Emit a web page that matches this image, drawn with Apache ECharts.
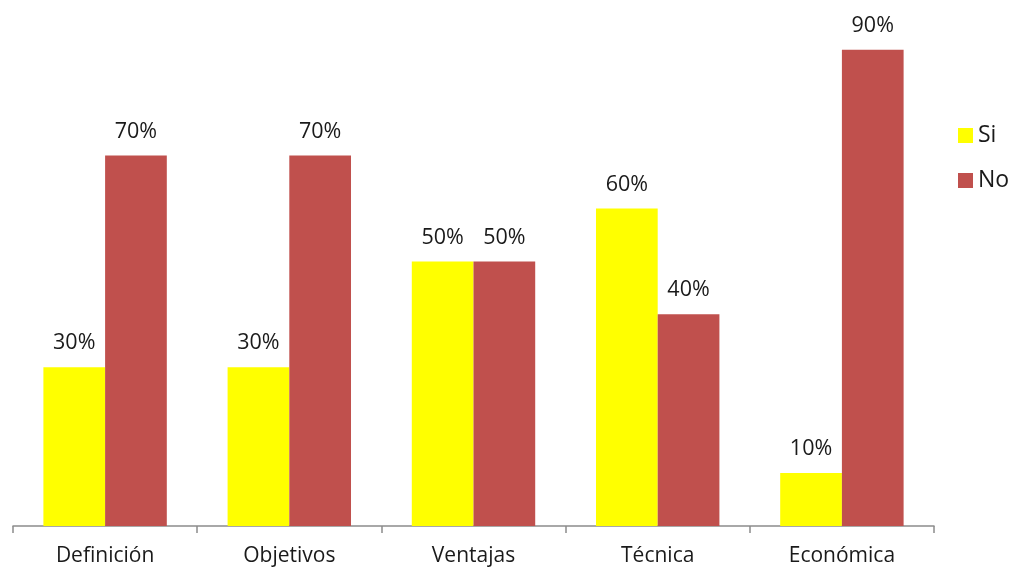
<!DOCTYPE html>
<html><head><meta charset="utf-8">
<script src="https://cdn.jsdelivr.net/npm/echarts@6/dist/echarts.min.js"></script>
<style>html,body{margin:0;padding:0;background:#fff}#c{width:1012px;height:571px}</style>
</head><body><div id="c"></div>
<script>
var categories = ['Definición', 'Objetivos', 'Ventajas', 'Técnica', 'Económica'];
var siValues = [30, 30, 50, 60, 10];
var noValues = [70, 70, 50, 40, 90];
var seriesNames = ['Si', 'No'];

var FONT = 'Open Sans';
var chart = echarts.init(document.getElementById('c'));
var labelStyle = {show: true, position: 'top', formatter: '{c}%', color: '#1a1a1a', fontSize: 21.5, fontFamily: FONT, distance: 13};
chart.setOption({
  animation: false,
  textStyle: {fontFamily: FONT},
  grid: {left: 13, right: 78, top: 0, bottom: 45},
  legend: {
    orient: 'vertical', left: 958, top: 124, padding: 0, itemWidth: 15, itemHeight: 15, itemGap: 22,
    icon: 'rect', textStyle: {fontSize: 23, color: '#1a1a1a', fontFamily: FONT},
    data: seriesNames
  },
  xAxis: {
    type: 'category', data: categories,
    axisLine: {lineStyle: {color: '#8c8c8c', width: 1.5}},
    axisTick: {show: true, length: 7, lineStyle: {color: '#8c8c8c', width: 1.5}},
    axisLabel: {fontSize: 21, color: '#1a1a1a', margin: 20}
  },
  yAxis: {type: 'value', min: 0, max: 99.4, show: false, splitLine: {show: false}},
  series: [
    {name: seriesNames[0], type: 'bar', data: siValues, itemStyle: {color: '#ffff00'}, barGap: '0%', barCategoryGap: '33%', label: labelStyle},
    {name: seriesNames[1], type: 'bar', data: noValues, itemStyle: {color: '#c0504d'}, barGap: '0%', barCategoryGap: '33%', label: labelStyle}
  ]
});
</script></body></html>
